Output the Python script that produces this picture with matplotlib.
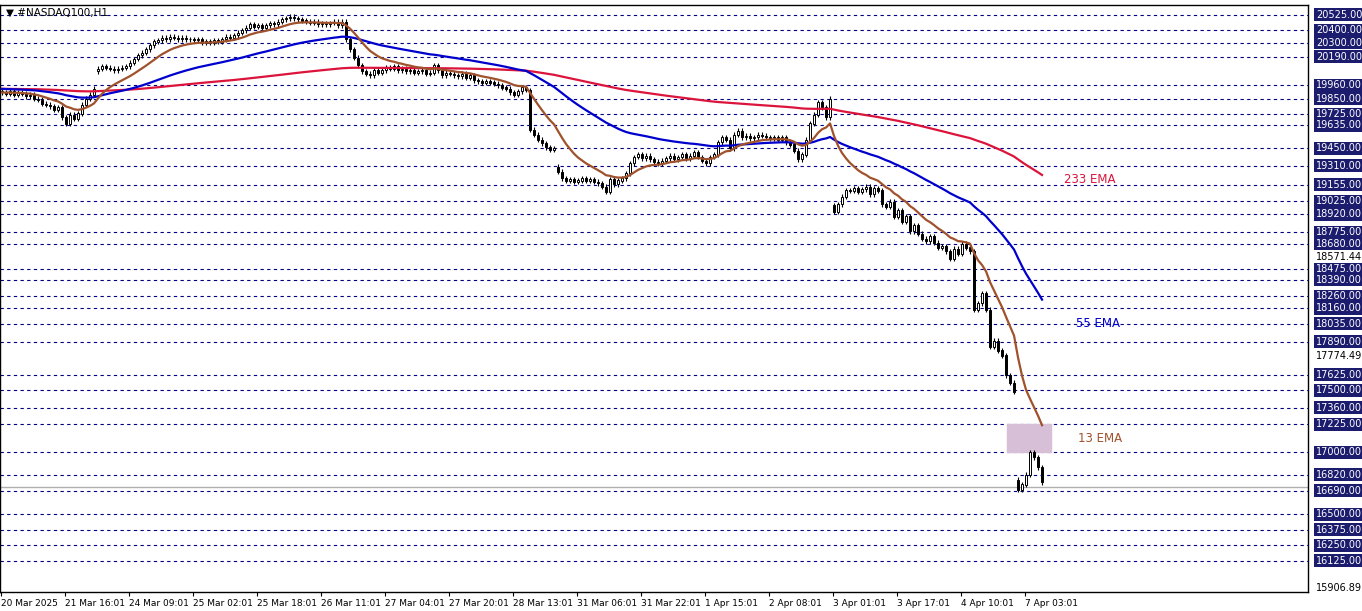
import matplotlib
matplotlib.use("Agg")
import matplotlib.pyplot as plt
import matplotlib.transforms as mtransforms
import numpy as np
import pandas as pd

# hourly closes
closes = [
    19900, 19890, 19910, 19880, 19900, 19890, 19870, 19880,
    19850, 19840, 19810, 19800, 19790, 19760, 19780,
    19700, 19650, 19720, 19690, 19730,
    19800, 19850, 19880, 19930,
    20090, 20110, 20100, 20090, 20080, 20090, 20100, 20110,
    20140, 20170, 20200, 20220, 20250, 20280,
    20310, 20320, 20340, 20330, 20350, 20340, 20330, 20340, 20330, 20330, 20320, 20330, 20300, 20310,
    20300, 20320, 20310, 20330, 20350, 20340, 20360, 20380,
    20400, 20420, 20450, 20430, 20440, 20420, 20440, 20460, 20450, 20470,
    20490, 20500, 20510, 20500, 20490,
    20480, 20470, 20460, 20470, 20450, 20460, 20450, 20460, 20470, 20440, 20470,
    20330, 20250, 20180, 20120,
    20070, 20050, 20040, 20080, 20060,
    20080, 20100, 20090, 20110, 20080, 20090, 20070, 20080, 20060, 20070, 20080, 20050, 20060,
    20120, 20080, 20040, 20060, 20050, 20040, 20030, 20050, 20020, 20040,
    20000, 19990, 19980, 19990, 19980, 19970, 19960,
    19940, 19930, 19900, 19880, 19910, 19940, 19920,
    19600, 19560, 19520, 19490, 19460, 19440, 19450,
    19260, 19210, 19190, 19200, 19180, 19190, 19210, 19190, 19200, 19180, 19170,
    19140, 19100, 19200, 19160, 19190, 19210, 19250,
    19330, 19380, 19400, 19370, 19390,
    19360, 19340, 19330, 19350, 19370, 19390, 19360, 19380, 19400, 19370, 19390, 19420, 19380,
    19350, 19330, 19380, 19400,
    19500, 19540, 19520, 19450, 19560, 19590,
    19540, 19550, 19530, 19540, 19560, 19550, 19540, 19530, 19540, 19520, 19540, 19500, 19480,
    19430, 19360, 19400, 19520,
    19650, 19720, 19820, 19780, 19700, 19850,
    18940, 19000, 19060, 19110,
    19110, 19130, 19100, 19120, 19140, 19080, 19130, 19110,
    19000, 18980, 19020, 18900, 18950,
    18860, 18900, 18780, 18830, 18760,
    18720, 18700, 18740, 18690, 18650,
    18660, 18620, 18560, 18640, 18600,
    18680, 18650, 18620,
    18150,
    18200, 18280, 18150,
    17850, 17900, 17820, 17780,
    17620, 17560, 17490,
    16700, 16740, 16820, 17000, 16960, 16880, 16760,
]
# opens of the bars that gapped away from the previous close
gap_opens = {24: 20070, 139: 19300, 208: 18990, 254: 16780}

ema_seed = 19930  # value of the long EMAs at the left edge
time_labels = ["20 Mar 2025", "21 Mar 16:01", "24 Mar 09:01", "25 Mar 02:01", "25 Mar 18:01",
               "26 Mar 11:01", "27 Mar 04:01", "27 Mar 20:01", "28 Mar 13:01", "31 Mar 06:01",
               "31 Mar 22:01", "1 Apr 15:01", "2 Apr 08:01", "3 Apr 01:01", "3 Apr 17:01",
               "4 Apr 10:01", "7 Apr 03:01"]
levels = [20525, 20400, 20300, 20190, 19960, 19850, 19725, 19635, 19450, 19310, 19155, 19025,
          18920, 18775, 18680, 18475, 18390, 18260, 18160, 18035, 17890, 17625, 17500, 17360,
          17225, 17000, 16820, 16690, 16500, 16375, 16250, 16125]
plain_prices = [18571.44, 17774.49, 15906.89]
zone = (17000, 17225)
last_price = 16720

opens = [closes[0] + 10] + closes[:-1]
for i, v in gap_opens.items():
    opens[i] = v

s = pd.Series(closes, dtype=float)
ema13 = s.ewm(span=13, adjust=False).mean()
ema55 = pd.concat([pd.Series([ema_seed]), s]).ewm(span=55, adjust=False).mean().iloc[1:]
ema233 = pd.concat([pd.Series([ema_seed]), s]).ewm(span=233, adjust=False).mean().iloc[1:]

fig = plt.figure(figsize=(13.62, 6.11), dpi=100)
ax = fig.add_axes([0.0, 0.031, 0.9604, 0.961])
n = len(closes)
x = np.arange(n)

for lv in levels:
    ax.axhline(lv, color="#000080", ls=(0, (3, 3)), lw=0.8, zorder=1)
ax.axhline(last_price, color="#b0b0b0", lw=1, zorder=1)

ax.add_patch(plt.Rectangle((251.3, zone[0]), 11, zone[1] - zone[0], color="#d8bfd8", zorder=2))

o = np.array(opens, float)
c = np.array(closes, float)
hi = np.maximum(o, c) + 20
lo = np.minimum(o, c) - 20
ax.vlines(x, lo, hi, color="black", lw=0.8, zorder=3)
up = c >= o
ax.bar(x[up], (c - o)[up] + 1, bottom=o[up], width=0.7, color="white", edgecolor="black", lw=0.7, zorder=4)
ax.bar(x[~up], (o - c)[~up] + 1, bottom=c[~up], width=0.7, color="black", edgecolor="black", lw=0.7, zorder=4)

ax.plot(x, ema233, color="#dc143c", lw=1.6, zorder=5)
ax.plot(x, ema55, color="#0000cd", lw=1.6, zorder=5)
ax.plot(x, ema13, color="#a0522d", lw=1.6, zorder=5)

ax.text(265.5, ema233.iloc[-1] - 40, "233 EMA", color="#dc143c", fontsize=8.5, va="center")
ax.text(268.5, 18040, "55 EMA", color="#0000cd", fontsize=8.5, va="center")
ax.text(269, 17110, "13 EMA", color="#a0522d", fontsize=8.5, va="center")
ax.text(1, 20545, "▼ #NASDAQ100,H1", fontsize=7.5, va="center")

ax.set_xlim(-0.5, 326.5)
ax.set_ylim(15874, 20606)
ax.set_yticks([])
ticks = np.arange(len(time_labels)) * 16 - 0.25
ax.set_xticks(ticks)
ax.set_xticklabels(time_labels, fontsize=6.5, ha="left")
ax.tick_params(axis="x", length=3, pad=2)
for sp in ax.spines.values():
    sp.set_linewidth(1)

tr = mtransforms.blended_transform_factory(ax.transAxes, ax.transData)
for lv in levels:
    ax.text(1.006, lv, f"{lv:.2f}", transform=tr, fontsize=7, color="white", va="center", ha="left",
            bbox=dict(boxstyle="square,pad=0.15", fc="#1c1c6e", ec="none"), clip_on=False)
for p in plain_prices:
    ax.text(1.006, p, f"{p:.2f}", transform=tr, fontsize=7, color="black", va="center", ha="left", clip_on=False)

fig.savefig("out.png", dpi=100)
